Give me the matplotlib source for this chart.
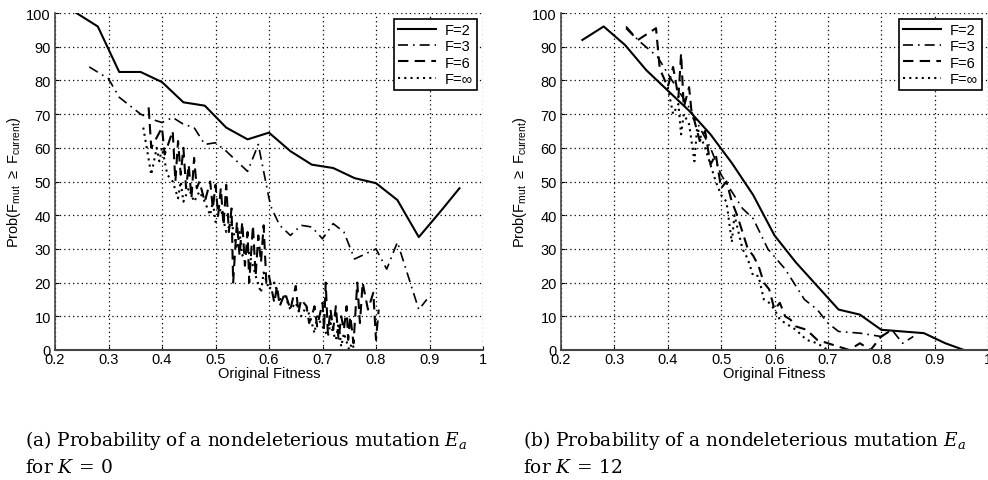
import matplotlib
matplotlib.use("Agg")
import matplotlib.pyplot as plt

# ---------------- data: panel (a) K=0 ----------------
a_f2_x = [0.24, 0.28, 0.32, 0.36, 0.40, 0.44, 0.48, 0.52, 0.56, 0.60, 0.64, 0.68, 0.72, 0.76, 0.80, 0.84, 0.88, 0.92, 0.956]
a_f2_y = [100, 96, 82.5, 82.5, 79.5, 73.5, 72.5, 66, 62.5, 64.5, 59, 55, 54, 51, 49.5, 44.5, 33.5, 41, 48]

a_f3_x = [0.264, 0.30, 0.32, 0.36, 0.38, 0.40, 0.42, 0.44, 0.46, 0.48, 0.50, 0.52, 0.54, 0.56, 0.58, 0.60, 0.605, 0.62, 0.64, 0.66, 0.68, 0.70, 0.72, 0.74, 0.76, 0.78, 0.80, 0.82, 0.84, 0.86, 0.88, 0.895]
a_f3_y = [84, 80.5, 75, 70, 68.5, 67.5, 69, 67, 66, 61, 61.5, 59, 56, 53, 61, 45, 42, 37, 34, 37, 36.5, 33, 37.5, 35, 27, 28.5, 30, 24, 32, 22, 12, 15]

a_f6_x = [0.375, 0.38, 0.40, 0.405, 0.42, 0.425, 0.43, 0.435, 0.44, 0.445, 0.45, 0.455, 0.46, 0.465, 0.47, 0.48, 0.49, 0.495, 0.50, 0.505, 0.51, 0.515, 0.52, 0.525, 0.53, 0.533, 0.54, 0.545, 0.55, 0.555, 0.56, 0.563, 0.57, 0.575, 0.58, 0.585, 0.59, 0.595, 0.60, 0.61, 0.615, 0.62, 0.63, 0.64, 0.65, 0.655, 0.66, 0.67, 0.675, 0.68, 0.685, 0.69, 0.70, 0.703, 0.706, 0.71, 0.715, 0.72, 0.725, 0.73, 0.735, 0.74, 0.745, 0.748, 0.752, 0.758, 0.765, 0.77, 0.775, 0.785, 0.795, 0.80, 0.805]
a_f6_y = [72, 60, 66, 58, 65, 50, 62, 52, 60, 48, 55, 45, 57, 48, 50, 44, 50, 42, 49, 40, 48, 37, 49, 35, 42, 20, 38, 28, 38, 25, 35, 20, 37, 22, 34, 26, 37, 20, 22, 14, 19, 13, 17, 12, 19, 11, 15, 13, 8, 10, 13, 7, 14, 6, 20, 5, 12, 6, 13, 3, 10, 6, 13, 3, 10, 2, 20, 8, 20, 12, 17, 3, 12]

a_finf_x = [0.365, 0.38, 0.39, 0.395, 0.40, 0.41, 0.42, 0.43, 0.435, 0.44, 0.45, 0.46, 0.47, 0.48, 0.49, 0.495, 0.50, 0.51, 0.52, 0.53, 0.54, 0.545, 0.55, 0.56, 0.57, 0.575, 0.585, 0.59, 0.60, 0.61, 0.62, 0.63, 0.64, 0.65, 0.66, 0.67, 0.68, 0.685, 0.69, 0.70, 0.71, 0.715, 0.72, 0.725, 0.73, 0.735, 0.74, 0.75, 0.755, 0.76]
a_finf_y = [66, 52, 60, 56, 60, 52, 50, 45, 50, 44, 48, 44, 47, 44, 40, 44, 38, 42, 35, 38, 30, 35, 28, 30, 25, 22, 17, 23, 18, 20, 15, 16, 12, 14, 10, 13, 8, 5, 10, 7, 4, 8, 5, 3, 8, 1, 5, 0, 2, 0]

# ---------------- data: panel (b) K=12 ----------------
b_f2_x = [0.24, 0.28, 0.32, 0.36, 0.40, 0.44, 0.48, 0.52, 0.56, 0.60, 0.64, 0.68, 0.72, 0.76, 0.80, 0.84, 0.88, 0.92, 0.955]
b_f2_y = [92, 96, 90.5, 83, 77, 71, 64, 55.5, 46, 34, 26, 19, 12, 10.5, 6, 5.5, 5, 2, 0]

b_f3_x = [0.322, 0.344, 0.381, 0.40, 0.42, 0.44, 0.46, 0.48, 0.50, 0.52, 0.54, 0.56, 0.5875, 0.62, 0.656, 0.68, 0.70, 0.72, 0.76, 0.80, 0.82, 0.84, 0.86]
b_f3_y = [96, 92, 87, 82, 77, 72, 66, 60, 52, 47, 42, 39, 30, 24, 15, 12, 8, 5.5, 5, 4, 6, 2, 4]

b_f6_x = [0.322, 0.344, 0.378, 0.385, 0.40, 0.41, 0.42, 0.425, 0.43, 0.44, 0.445, 0.45, 0.46, 0.47, 0.48, 0.49, 0.50, 0.51, 0.52, 0.53, 0.54, 0.55, 0.56, 0.57, 0.58, 0.59, 0.60, 0.61, 0.62, 0.63, 0.64, 0.66, 0.68, 0.70, 0.72, 0.74, 0.76, 0.78, 0.80, 0.82]
b_f6_y = [95.5, 92, 95.5, 83.5, 78, 84, 75, 88, 72, 78, 70, 68, 62, 65, 55, 58, 48, 50, 44, 40, 35, 30, 28, 25, 20, 18, 12, 14, 10, 9, 7, 6, 3, 2, 1, 0, 2, 0, 4, 6]

b_finf_x = [0.40, 0.41, 0.42, 0.425, 0.43, 0.44, 0.45, 0.455, 0.47, 0.48, 0.49, 0.50, 0.51, 0.52, 0.525, 0.54, 0.55, 0.56, 0.57, 0.58, 0.59, 0.60, 0.61, 0.62, 0.64, 0.66, 0.68, 0.70]
b_finf_y = [78, 70, 73, 64, 70, 67, 56, 66, 60, 55, 50, 46, 44, 32, 40, 30, 27, 22, 22, 15, 14, 12, 9, 8, 6, 3, 2, 0]

labels = ["F=2", "F=3", "F=6", "F=\u221e"]
x_ticks = [0.2, 0.3, 0.4, 0.5, 0.6, 0.7, 0.8, 0.9, 1.0]
x_ticklabels = ["0.2", "0.3", "0.4", "0.5", "0.6", "0.7", "0.8", "0.9", "1"]
y_ticks = list(range(0, 101, 10))
caption_line1 = ["(a) Probability of a nondeleterious mutation $E_a$",
                 "(b) Probability of a nondeleterious mutation $E_a$"]
caption_line2 = ["for $K\\,=\\,0$", "for $K\\,=\\,12$"]

plt.rcParams['font.family'] = ['Liberation Sans', 'DejaVu Sans']
plt.rcParams['mathtext.fontset'] = 'custom'
plt.rcParams['mathtext.rm'] = 'DejaVu Serif'
plt.rcParams['mathtext.it'] = 'DejaVu Serif:italic'
plt.rcParams['mathtext.bf'] = 'DejaVu Serif:bold'
plt.rcParams['mathtext.sf'] = 'Liberation Sans'

fig = plt.figure(figsize=(9.88, 4.81), dpi=100)

styles = [dict(ls='-', lw=1.5),
          dict(ls=(0, (6, 3, 1, 3)), lw=1.2),
          dict(ls=(0, (5, 3)), lw=1.5),
          dict(ls=(0, (1, 2)), lw=1.5)]

panels = [
    ([(a_f2_x, a_f2_y), (a_f3_x, a_f3_y), (a_f6_x, a_f6_y), (a_finf_x, a_finf_y)], [55, 483]),
    ([(b_f2_x, b_f2_y), (b_f3_x, b_f3_y), (b_f6_x, b_f6_y), (b_finf_x, b_finf_y)], [561, 988]),
]

W, H = 988, 481
for i, (series, (xl, xr)) in enumerate(panels):
    ax = fig.add_axes([xl / W, 1 - 351 / H, (xr - xl) / W, (351 - 14) / H])
    for (xs, ys), st, lab in zip(series, styles, labels):
        ax.plot(xs, ys, color='black', label=lab, **st)
    ax.set_xlim(0.2, 1.0)
    ax.set_ylim(0, 100)
    ax.set_xticks(x_ticks)
    ax.set_xticklabels(x_ticklabels)
    ax.set_yticks(y_ticks)
    ax.tick_params(direction='in', length=3, labelsize=10.5, colors='black')
    ax.tick_params(axis='x', pad=1.5)
    ax.tick_params(axis='y', pad=3)
    ax.grid(True, ls=(0, (1, 2.5)), color='black', lw=0.9)
    ax.spines['top'].set_visible(False)
    ax.spines['right'].set_visible(False)
    ax.spines['left'].set_color('#444444')
    ax.spines['bottom'].set_color('#444444')
    ax.spines['left'].set_linewidth(1.2)
    ax.spines['bottom'].set_linewidth(1.5)
    ax.set_xlabel("Original Fitness", fontsize=10.5, labelpad=0)
    ax.set_ylabel(r"Prob(F$_{\mathsf{mut}}$ $\mathsf{\geq}$ F$_{\mathsf{current}}$)", fontsize=10.5, labelpad=2)
    leg = ax.legend(loc='upper right', fontsize=10.5, fancybox=False, framealpha=1,
                    edgecolor='black', handlelength=2.6, borderpad=0.3,
                    labelspacing=0.15, handletextpad=0.6, borderaxespad=0.4)
    leg.get_frame().set_linewidth(1.2)
    x0 = (25 if i == 0 else 523) / W
    fig.text(x0, 1 - 446 / H, caption_line1[i], ha='left', va='baseline',
             fontsize=13.4, family='DejaVu Serif')
    fig.text(x0, 1 - 473 / H, caption_line2[i], ha='left', va='baseline',
             fontsize=13.4, family='DejaVu Serif')

fig.savefig("out.png", dpi=100)
